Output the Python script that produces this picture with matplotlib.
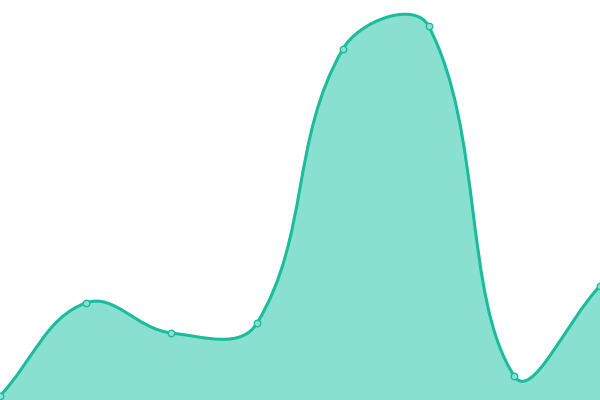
import matplotlib
matplotlib.use("Agg")
import matplotlib.pyplot as plt
from matplotlib.path import Path
from matplotlib.patches import PathPatch
import numpy as np

# data (values on a 0..400 scale, 8 evenly spaced points)
x_vals = [0, 1, 2, 3, 4, 5, 6, 7]
y_vals = [4, 97, 67, 77, 351, 374, 24, 114]

C_LINE = "#1abc9c"
C_FILL = "#8ae0d0"

W, H = 600, 400
fig = plt.figure(figsize=(6, 4), dpi=100)
ax = fig.add_axes([0, 0, 1, 1])
ax.set_xlim(0, 7)
ax.set_ylim(0, 400)
ax.axis("off")

# spline control points (tension 0.4), computed in pixel space
pts = ax.transData.transform(np.column_stack([x_vals, y_vals]))
t = 0.4
n = len(pts)
cp_prev = []
cp_next = []
for i in range(n):
    prev = pts[i - 1] if i > 0 else pts[i]
    cur = pts[i]
    nxt = pts[i + 1] if i < n - 1 else pts[i]
    d01 = np.hypot(*(cur - prev))
    d12 = np.hypot(*(nxt - cur))
    tot = d01 + d12
    s01 = d01 / tot if tot else 0
    s12 = d12 / tot if tot else 0
    cp_prev.append(cur - t * s01 * (nxt - prev))
    cp_next.append(cur + t * s12 * (nxt - prev))

inv = ax.transData.inverted()
verts = [pts[0]]
codes = [Path.MOVETO]
for i in range(n - 1):
    verts += [cp_next[i], cp_prev[i + 1], pts[i + 1]]
    codes += [Path.CURVE4] * 3
verts = inv.transform(np.array(verts))
line_path = Path(verts, codes)

fill_verts = list(verts) + [(x_vals[-1], 0), (x_vals[0], 0), verts[0]]
fill_codes = codes + [Path.LINETO, Path.LINETO, Path.CLOSEPOLY]
ax.add_patch(PathPatch(Path(fill_verts, fill_codes), facecolor=C_FILL,
                       edgecolor="none", zorder=1))
ax.add_patch(PathPatch(line_path, facecolor="none", edgecolor=C_LINE,
                       lw=2.2, zorder=2))

ax.scatter(x_vals, y_vals, s=22, facecolor=C_FILL, edgecolor=C_LINE,
           linewidth=1.0, zorder=3, clip_on=False)

fig.savefig("out.png", dpi=100)
